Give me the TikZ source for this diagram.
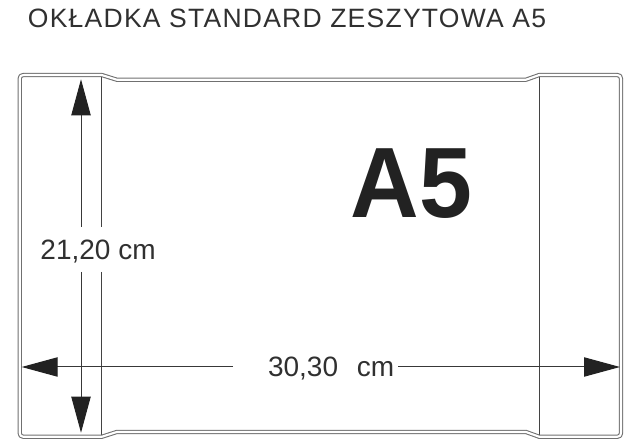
\documentclass[tikz,border=0pt]{standalone}
\usepackage{fontspec}
\setmainfont{Liberation Sans}
\usetikzlibrary{arrows.meta}
\definecolor{outl}{HTML}{707070}
\definecolor{ink}{HTML}{222222}
\definecolor{txt}{HTML}{303030}
\tikzset{
  outline/.style={draw=outl, double=white, line width=0.8pt, double distance=1.6pt, line join=round},
  flap/.style={draw=ink!85, line width=0.75pt},
  dim/.style={draw=ink!90, line width=0.75pt, -{Triangle[length=27pt,width=14.5pt,color=ink,fill=ink]}},
  lbl/.style={text=txt, inner sep=0pt, font=\fontsize{21}{24}\selectfont},
}
\begin{document}
\begin{tikzpicture}[x=0.75pt,y=-0.75pt]
\useasboundingbox (0,0) rectangle (635,448);
% coordinates
\coordinate (ftl) at (101.7,75);
\coordinate (ftlm) at (101.7,227);
\coordinate (fblm) at (101.7,272);
\coordinate (fbl) at (101.7,436.8);
\coordinate (ftr) at (539.3,75);
\coordinate (fbr) at (539.3,436.8);
% flap lines
\draw[flap] (ftl) -- (ftlm);
\draw[flap] (fblm) -- (fbl);
\draw[flap] (ftr) -- (fbr);
% outline
\draw[outline] (19.7,83) .. controls (19.7,75) .. (27.7,75) -- (101.7,75) -- (116.7,79.7) -- (526,79.7) -- (539.3,75) -- (613,75)
  .. controls (621,75) .. (621,83) -- (621,428.8) .. controls (621,436.8) .. (613,436.8) -- (539.3,436.8) -- (526,432)
  -- (116.7,432) -- (101.7,436.8) -- (27.7,436.8) .. controls (19.7,436.8) .. (19.7,428.8) -- cycle;
% vertical dimension
\coordinate (vtop) at (81,79.3);
\coordinate (vbot) at (81,432.7);
\coordinate (vgt) at (81,227);
\coordinate (vgb) at (81,272);
\draw[dim] (vgt) -- (vtop);
\draw[dim] (vgb) -- (vbot);
\node[lbl, anchor=base west] (hlabel) at (40.2,259.3) {21,20 cm};
% horizontal dimension
\coordinate (hleft) at (21.7,367);
\coordinate (hright) at (620,367);
\coordinate (hgl) at (233,367);
\coordinate (hgr) at (398,367);
\draw[dim] (hgl) -- (hleft);
\draw[dim] (hgr) -- (hright);
\node[lbl, anchor=base west] (wlabel) at (267.8,376.7) {30,30\hspace{14pt}cm};
% A5
\node[text=ink, inner sep=0pt, anchor=base, xscale=0.95, font=\bfseries\fontsize{75}{80}\selectfont] (bigA) at (411.5,217.3) {A5};
% title
\node[text=txt, inner sep=0pt, anchor=base west, font=\fontsize{19.9}{22}\selectfont\addfontfeatures{LetterSpace=4.6}] (title) at (27.7,27.3) {OKŁADKA STANDARD ZESZYTOWA A5};
\end{tikzpicture}
\end{document}
